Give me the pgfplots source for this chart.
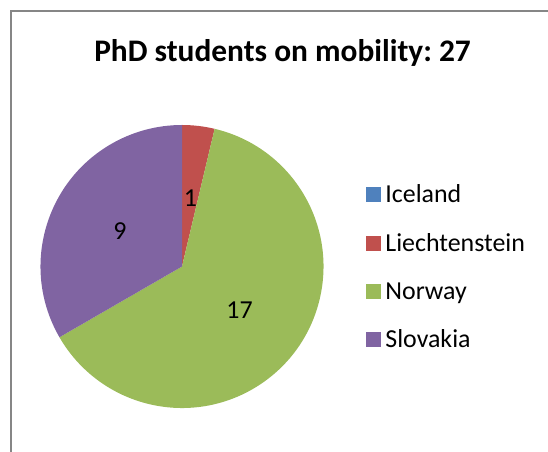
\documentclass[border=0pt]{standalone}
\usepackage{pgfplots}
\usepackage{pgfplotstable}
\usepackage{fontspec}
\setmainfont{Carlito}
\pgfplotsset{compat=1.18}
\frenchspacing
\definecolor{cIce}{HTML}{4F81BD}
\definecolor{cLie}{HTML}{C0504D}
\definecolor{cNor}{HTML}{9BBB59}
\definecolor{cSlo}{HTML}{8064A2}
\definecolor{frame}{HTML}{868686}
% value, slice colour, label position (in the 548x452 canvas units)
\pgfplotstableread{
name value color lx ly
Iceland 0 cIce 0 0
Liechtenstein 1 cLie 190.5 254
Norway 17 cNor 239.5 141.5
Slovakia 9 cSlo 120 220.5
}\piedata
\def\pcx{182}\def\pcy{185.5}\def\prad{141.5}
\begin{document}
\begin{tikzpicture}
\begin{axis}[
  width=548bp, height=452bp, scale only axis,
  xmin=0, xmax=548, ymin=0, ymax=452,
  hide axis, clip=false,
  legend style={at={(axis cs:366,268)}, anchor=north west, draw=none, fill=none,
    inner sep=0pt, outer sep=0pt, row sep=27.3bp, column sep=5bp,
    font=\fontsize{26}{30}\selectfont,
    nodes={inner sep=0pt, text height=19bp, text depth=2bp}},
  legend cell align=left,
  legend image code/.code={\fill[#1] (0bp,-7bp) rectangle (14bp,7bp);},
]
\pgfplotstablegetrowsof{\piedata}
\pgfmathtruncatemacro\nrows{\pgfplotsretval-1}
% total
\def\ptotal{0}
\pgfplotsforeachungrouped \i in {0,...,\nrows}{%
  \pgfplotstablegetelem{\i}{value}\of\piedata
  \pgfmathsetmacro\ptotal{\ptotal+\pgfplotsretval}%
}
\def\pcum{0}
\pgfplotsforeachungrouped \i in {0,...,\nrows}{%
  \pgfplotstablegetelem{\i}{value}\of\piedata \let\pv\pgfplotsretval
  \pgfplotstablegetelem{\i}{color}\of\piedata \let\pc\pgfplotsretval
  \pgfplotstablegetelem{\i}{lx}\of\piedata \let\plx\pgfplotsretval
  \pgfplotstablegetelem{\i}{ly}\of\piedata \let\ply\pgfplotsretval
  \pgfmathsetmacro\pa{90-360*\pcum/\ptotal}%
  \pgfmathsetmacro\pb{90-360*(\pcum+\pv)/\ptotal}%
  \pgfmathsetmacro\psx{\pcx+\prad*cos(\pa)}%
  \pgfmathsetmacro\psy{\pcy+\prad*sin(\pa)}%
  \pgfmathsetmacro\pcum{\pcum+\pv}%
  \pgfmathtruncatemacro\pvi{\pv}%
  \ifnum\pvi>0
    \edef\temp{\noexpand\fill[\pc] (axis cs:\pcx,\pcy) -- (axis cs:\psx,\psy)
      arc[start angle=\pa, end angle=\pb, radius=\prad bp] -- cycle;
      \noexpand\node[font=\noexpand\fontsize{26}{30}\noexpand\selectfont, inner sep=0pt]
        at (axis cs:\plx,\ply) {\pvi};}%
    \temp
  \fi
}
\addlegendimage{cIce}\addlegendentry{Iceland}
\addlegendimage{cLie}\addlegendentry{Liechtenstein}
\addlegendimage{cNor}\addlegendentry{Norway}
\addlegendimage{cSlo}\addlegendentry{Slovakia}
\node[anchor=base, inner sep=0pt, font=\bfseries\fontsize{31.5}{36}\selectfont]
  at (axis cs:282.5,390) {PhD students on mobility: 27};
\draw[frame, line width=1.5bp] (axis cs:11,0) -- (axis cs:11,441) -- (axis cs:548,441);
\end{axis}
\pgfresetboundingbox
\useasboundingbox (current axis.south west) rectangle (current axis.north east);
\end{tikzpicture}
\end{document}
